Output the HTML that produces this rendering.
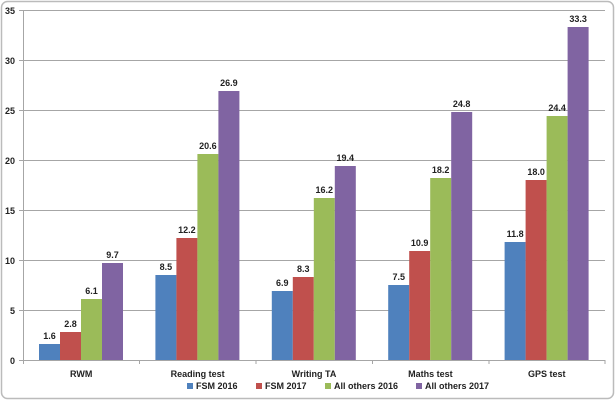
<!DOCTYPE html>
<html><head><style>
body{margin:0;background:#fff;}
text{font-family:"Liberation Sans",sans-serif;font-weight:bold;font-size:9px;fill:#222;}
</style></head><body>
<svg width="616" height="401" xmlns="http://www.w3.org/2000/svg">
<rect x="1.5" y="1.5" width="612" height="397" rx="6" fill="#fff" stroke="#bbb" stroke-width="1.5"/>
<g stroke="#a6a6a6" stroke-width="1">
<line x1="23" y1="310.5" x2="605" y2="310.5"/>
<line x1="23" y1="260.5" x2="605" y2="260.5"/>
<line x1="23" y1="210.5" x2="605" y2="210.5"/>
<line x1="23" y1="160.5" x2="605" y2="160.5"/>
<line x1="23" y1="110.5" x2="605" y2="110.5"/>
<line x1="23" y1="60.5" x2="605" y2="60.5"/>
<line x1="23" y1="10.5" x2="605" y2="10.5"/>
<line x1="23.5" y1="10" x2="23.5" y2="364"/>
<line x1="19" y1="360.5" x2="605" y2="360.5"/>
<line x1="19" y1="310.5" x2="23" y2="310.5"/><line x1="19" y1="260.5" x2="23" y2="260.5"/><line x1="19" y1="210.5" x2="23" y2="210.5"/><line x1="19" y1="160.5" x2="23" y2="160.5"/><line x1="19" y1="110.5" x2="23" y2="110.5"/><line x1="19" y1="60.5" x2="23" y2="60.5"/><line x1="19" y1="10.5" x2="23" y2="10.5"/>
<line x1="139.5" y1="360" x2="139.5" y2="364"/><line x1="256" y1="360" x2="256" y2="364"/><line x1="372.5" y1="360" x2="372.5" y2="364"/><line x1="489" y1="360" x2="489" y2="364"/><line x1="605" y1="360" x2="605" y2="364"/>
</g>
<g text-anchor="end">
<text x="15" y="364">0</text><text x="15" y="314">5</text><text x="15" y="264">10</text><text x="15" y="214">15</text><text x="15" y="164">20</text><text x="15" y="114">25</text><text x="15" y="64">30</text><text x="15" y="14">35</text>
</g>
<g text-anchor="middle">
<text x="81.2" y="377">RWM</text>
<text x="197.6" y="377">Reading test</text>
<text x="314" y="377">Writing TA</text>
<text x="430.4" y="377">Maths test</text>
<text x="546.8" y="377">GPS test</text>

<rect x="39" y="344" width="21" height="16" fill="#4f81bd"/><text x="49.5" y="339">1.6</text>
<rect x="60" y="332" width="21" height="28" fill="#c0504d"/><text x="70.5" y="327">2.8</text>
<rect x="81" y="299" width="21" height="61" fill="#9bbb59"/><text x="91.5" y="294">6.1</text>
<rect x="102" y="263" width="21" height="97" fill="#8064a2"/><text x="112.5" y="258">9.7</text>

<rect x="155.4" y="275" width="21" height="85" fill="#4f81bd"/><text x="165.9" y="270">8.5</text>
<rect x="176.4" y="238" width="21" height="122" fill="#c0504d"/><text x="186.9" y="233">12.2</text>
<rect x="197.4" y="154" width="21" height="206" fill="#9bbb59"/><text x="207.9" y="149">20.6</text>
<rect x="218.4" y="91" width="21" height="269" fill="#8064a2"/><text x="228.9" y="86">26.9</text>

<rect x="271.8" y="291" width="21" height="69" fill="#4f81bd"/><text x="282.3" y="286">6.9</text>
<rect x="292.8" y="277" width="21" height="83" fill="#c0504d"/><text x="303.3" y="272">8.3</text>
<rect x="313.8" y="198" width="21" height="162" fill="#9bbb59"/><text x="324.3" y="193">16.2</text>
<rect x="334.8" y="166" width="21" height="194" fill="#8064a2"/><text x="345.3" y="161">19.4</text>

<rect x="388.2" y="285" width="21" height="75" fill="#4f81bd"/><text x="398.7" y="280">7.5</text>
<rect x="409.2" y="251" width="21" height="109" fill="#c0504d"/><text x="419.7" y="246">10.9</text>
<rect x="430.2" y="178" width="21" height="182" fill="#9bbb59"/><text x="440.7" y="173">18.2</text>
<rect x="451.2" y="112" width="21" height="248" fill="#8064a2"/><text x="461.7" y="107">24.8</text>

<rect x="504.6" y="242" width="21" height="118" fill="#4f81bd"/><text x="515.1" y="237">11.8</text>
<rect x="525.6" y="180" width="21" height="180" fill="#c0504d"/><text x="536.1" y="175">18.0</text>
<rect x="546.6" y="116" width="21" height="244" fill="#9bbb59"/><text x="557.1" y="111">24.4</text>
<rect x="567.6" y="27" width="21" height="333" fill="#8064a2"/><text x="578.1" y="22">33.3</text>
</g>
<rect x="187" y="383" width="6" height="6" fill="#4f81bd"/><text x="196" y="389">FSM 2016</text>
<rect x="256" y="383" width="6" height="6" fill="#c0504d"/><text x="265" y="389">FSM 2017</text>
<rect x="325" y="383" width="6" height="6" fill="#9bbb59"/><text x="334" y="389">All others 2016</text>
<rect x="416" y="383" width="6" height="6" fill="#8064a2"/><text x="425" y="389">All others 2017</text>
</svg>
</body></html>
